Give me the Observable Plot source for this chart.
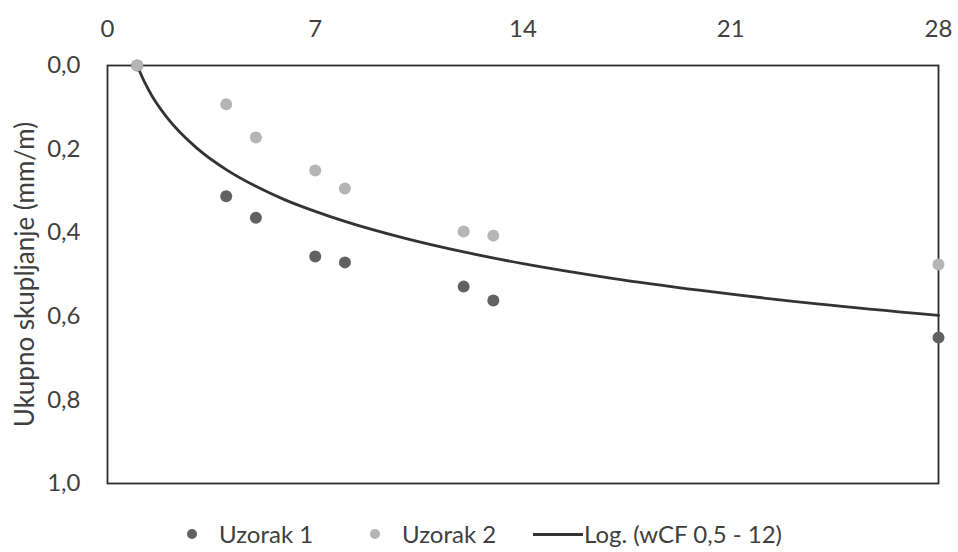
<!DOCTYPE html>
<html>
<head>
<meta charset="utf-8">
<script src="https://cdn.jsdelivr.net/npm/d3@7"></script>
<script src="https://cdn.jsdelivr.net/npm/@observablehq/plot@0.6"></script>
<style>
  html, body { margin: 0; padding: 0; background: #fff; }
  #wrap { position: relative; width: 958px; height: 552px; font-family: Lato, "Open Sans", sans-serif; color: #404040; }
  #legend { position: absolute; top: 519px; left: 0; width: 958px; height: 30px; font-size: 24px; }
  .li { position: absolute; top: 0; line-height: 30px; white-space: nowrap; }
  .dot { position: absolute; width: 10px; height: 10px; border-radius: 50%; top: 10px; }
  .ln { position: absolute; width: 50px; height: 3px; background: #333; top: 14px; }
</style>
</head>
<body>
<div id="wrap">
  <div id="chart"></div>
  <div id="legend"></div>
</div>
<script>
// Days (x) and total shrinkage (mm/m)
const days = [1, 4, 5, 7, 8, 12, 13, 28];
const uzorak1 = [0, 0.313, 0.364, 0.457, 0.471, 0.529, 0.562, 0.651];
const uzorak2 = [0, 0.093, 0.172, 0.251, 0.294, 0.397, 0.407, 0.476];
// Trend line "Log. (wCF 0,5 - 12)"
const trendX = [1, 1.25, 1.5, 2, 3, 4, 5, 6, 7, 8, 10, 12, 14, 17, 20, 24, 28];
const trendY = [0, 0.040, 0.073, 0.124, 0.197, 0.249, 0.289, 0.322, 0.349, 0.373, 0.413, 0.446, 0.474, 0.509, 0.538, 0.571, 0.598];
const xTicks = [0, 7, 14, 21, 28];
const yTicks = [0, 0.2, 0.4, 0.6, 0.8, 1.0];
const seriesNames = ["Uzorak 1", "Uzorak 2", "Log. (wCF 0,5 - 12)"];
const yLabel = "Ukupno skupljanje (mm/m)";

const colors = {dark: "#616161", light: "#b5b5b5", line: "#333333"};

const s1 = days.map((d, i) => ({x: d, y: uzorak1[i]}));
const s2 = days.map((d, i) => ({x: d, y: uzorak2[i]}));
const trend = trendX.map((d, i) => ({x: d, y: trendY[i]}));
const fmt = v => v.toFixed(1).replace(".", ",");

const plot = Plot.plot({
  width: 958,
  height: 505,
  marginTop: 65,
  marginBottom: 22,
  marginLeft: 107,
  marginRight: 20,
  style: {fontFamily: "Lato, 'Open Sans', sans-serif", fontSize: "24px", color: "#404040", background: "#fff"},
  x: {domain: [0, 28], ticks: xTicks, axis: null},
  y: {domain: [0, 1], reverse: true, axis: null},
  marks: [
    Plot.axisX(xTicks, {anchor: "top", tickSize: 0, tickPadding: 29, label: null, fontSize: 24, fill: "#404040"}),
    Plot.axisY(yTicks, {anchor: "left", tickSize: 0, tickPadding: 27, tickFormat: fmt, label: null, fontSize: 24, fill: "#404040"}),
    Plot.text([yLabel], {frameAnchor: "left", textAnchor: "middle", dx: -82, rotate: -90, fontSize: 26, fill: "#404040"}),
    Plot.line(trend, {x: "x", y: "y", stroke: colors.line, strokeWidth: 2.8, curve: "monotone-x"}),
    Plot.frame({stroke: "#2b2b2b", strokeWidth: 1.8}),
    Plot.dot(s1, {x: "x", y: "y", r: 6, fill: colors.dark}),
    Plot.dot(s2, {x: "x", y: "y", r: 6, fill: colors.light})
  ]
});
document.getElementById("chart").appendChild(plot);

const legend = document.getElementById("legend");
const items = [
  {kind: "dot", color: colors.dark, sx: 187, tx: 219, label: seriesNames[0]},
  {kind: "dot", color: colors.light, sx: 370, tx: 402, label: seriesNames[1]},
  {kind: "line", color: colors.line, sx: 533, tx: 584, label: seriesNames[2]}
];
for (const it of items) {
  const sw = document.createElement("div");
  sw.className = it.kind === "dot" ? "dot" : "ln";
  sw.style.left = it.sx + "px";
  sw.style.background = it.color;
  legend.appendChild(sw);
  const t = document.createElement("div");
  t.className = "li";
  t.style.left = it.tx + "px";
  t.textContent = it.label;
  legend.appendChild(t);
}
</script>
</body>
</html>
